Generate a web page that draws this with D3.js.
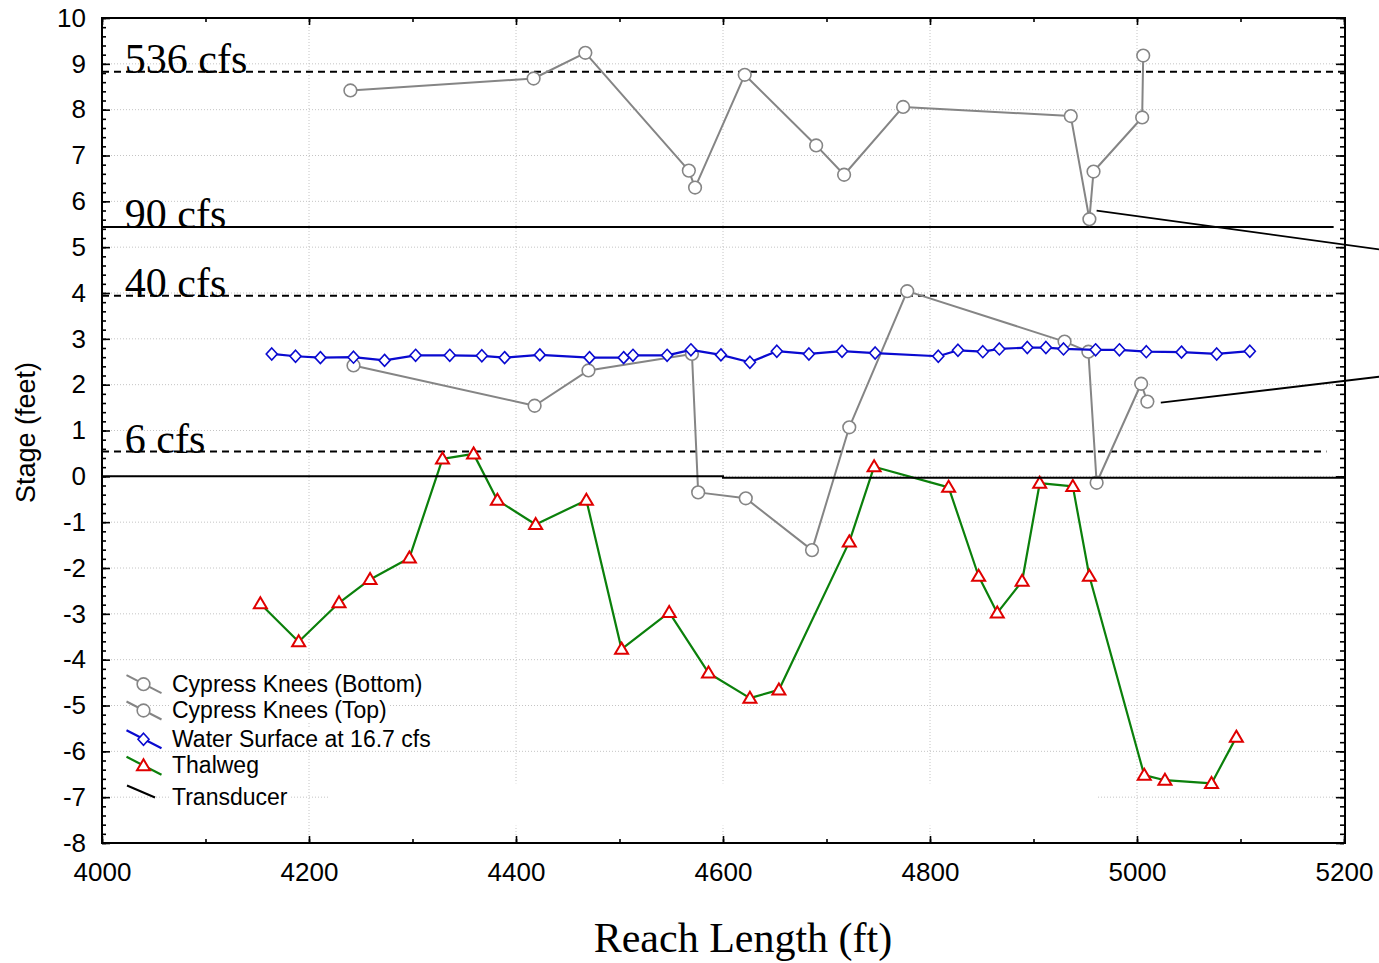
<!DOCTYPE html>
<html>
<head>
<meta charset="utf-8">
<script src="https://cdn.jsdelivr.net/npm/d3@7/dist/d3.min.js"></script>
<style>
  html, body { margin: 0; padding: 0; background: #fff; }
  svg { display: block; }
</style>
</head>
<body>
<svg id="chart" width="1379" height="963"></svg>
<script>
// ---------------- DATA ----------------
const xTicks = [4000, 4200, 4400, 4600, 4800, 5000, 5200];
const yTicks = [-8, -7, -6, -5, -4, -3, -2, -1, 0, 1, 2, 3, 4, 5, 6, 7, 8, 9, 10];

const cypressBottomX = [4243, 4418, 4470, 4570, 4576, 4622, 4686, 4722, 4778, 4930, 4953, 4961, 5004, 5010];
const cypressBottomY = [2.42, 1.54, 2.31, 2.67, -0.35, -0.48, -1.61, 1.07, 4.04, 2.94, 2.72, -0.14, 2.02, 1.63];

const cypressTopX = [4240, 4417, 4467, 4567, 4573, 4621, 4690, 4717, 4774, 4936, 4954, 4958, 5005, 5006];
const cypressTopY = [8.42, 8.68, 9.24, 6.67, 6.30, 8.76, 7.22, 6.58, 8.06, 7.86, 5.61, 6.65, 7.83, 9.18];

const waterX = [4164, 4187, 4211, 4243, 4273, 4303, 4336, 4367, 4389, 4423, 4471, 4504, 4513, 4546, 4569, 4598, 4626,
                4652, 4683, 4715, 4747, 4808, 4827, 4851, 4867, 4894, 4912, 4929, 4960, 4983, 5009, 5043, 5077, 5109];
const waterY = [2.67, 2.62, 2.59, 2.60, 2.53, 2.64, 2.64, 2.63, 2.59, 2.65, 2.59, 2.59, 2.64, 2.64, 2.76, 2.65, 2.49,
                2.73, 2.67, 2.73, 2.69, 2.62, 2.75, 2.72, 2.78, 2.81, 2.81, 2.78, 2.76, 2.76, 2.72, 2.71, 2.67, 2.73];

const thalwegX = [4153, 4190, 4229, 4259, 4297, 4329, 4359, 4382, 4419, 4468, 4502, 4548, 4586, 4626, 4654, 4722,
                  4746, 4818, 4847, 4865, 4889, 4906, 4938, 4954, 5007, 5027, 5072, 5096];
const thalwegY = [-2.78, -3.61, -2.76, -2.25, -1.78, 0.38, 0.49, -0.52, -1.05, -0.52, -3.77, -2.97, -4.29, -4.84, -4.66, -1.43,
                  0.21, -0.24, -2.18, -2.98, -2.29, -0.15, -0.22, -2.18, -6.52, -6.63, -6.70, -5.69];

const transducerX = [4000, 4600, 4600, 5200];
const transducerY = [0, 0, -0.03, -0.03];

const flowLabels = ["536 cfs", "90 cfs", "40 cfs", "6 cfs"];
const flowStages = [8.83, 5.44, 3.94, 0.54];
const flowDashed = [true, false, true, true];
const flowEndX = [5203, 5190, 5190, 5183];

const seriesNames = ["Cypress Knees (Bottom)", "Cypress Knees (Top)", "Water Surface at 16.7 cfs", "Thalweg", "Transducer"];

// pointer (callout) lines, in data units
const pointerFromX = [4961, 5023];
const pointerFromY = [5.795, 1.606];
const pointerToX = [5234, 5234];
const pointerToY = [4.953, 2.173];

// ---------------- SETUP ----------------
const svg = d3.select("#chart");
const L = 102, R = 1344, T = 18, B = 843;
const x = d3.scaleLinear().domain([4000, 5200]).range([L, R]);
const y = d3.scaleLinear().domain([-8, 10]).range([B, T]);

const sans = "'Liberation Sans', Arial, Helvetica, sans-serif";
const serif = "'Liberation Serif', 'Times New Roman', Times, serif";

const zip = (xs, ys) => xs.map((v, i) => ({ x: v, y: ys[i] }));
const plainFmt = d => String(d);   // ASCII hyphen for negatives

// grid
const grid = svg.append("g").attr("stroke", "#c4c4c4").attr("stroke-width", 1).attr("stroke-dasharray", "1,2");
grid.selectAll("line.h").data(yTicks.filter(v => v > -8 && v < 10)).join("line")
  .attr("x1", L).attr("x2", R).attr("y1", d => y(d)).attr("y2", d => y(d));
grid.selectAll("line.v").data(xTicks.filter(v => v > 4000 && v < 5200)).join("line")
  .attr("x1", d => x(d)).attr("x2", d => x(d)).attr("y1", T).attr("y2", B);

// white caption box covering part of the lower grid
svg.append("rect")
  .attr("x", x(4219)).attr("y", y(-6.7))
  .attr("width", x(4961) - x(4219)).attr("height", y(-7.62) - y(-6.7))
  .attr("fill", "#fff");

// flow reference lines
flowStages.forEach((s, i) => {
  svg.append("line")
    .attr("x1", L).attr("x2", x(flowEndX[i]))
    .attr("y1", y(s)).attr("y2", y(s))
    .attr("stroke", "#000").attr("stroke-width", 2)
    .attr("stroke-dasharray", flowDashed[i] ? "7,5" : null);
  svg.append("text")
    .attr("x", x(4022)).attr("y", y(s) + 1)
    .attr("font-family", serif).attr("font-size", 42)
    .attr("fill", "#000")
    .text(flowLabels[i]);
});

// series
const lineGen = d3.line().x(d => x(d.x)).y(d => y(d.y));

const circlePath = d3.symbol().type(d3.symbolCircle).size(Math.PI * 40)();
const diamondPath = "M0,-6L5.5,0L0,6L-5.5,0Z";
const trianglePath = "M0,-6.5L6.5,4.5L-6.5,4.5Z";

const series = [
  { name: seriesNames[0], data: zip(cypressBottomX, cypressBottomY), color: "#858585", width: 2, marker: circlePath, mStroke: "#858585", mWidth: 1.6 },
  { name: seriesNames[1], data: zip(cypressTopX, cypressTopY), color: "#858585", width: 2, marker: circlePath, mStroke: "#858585", mWidth: 1.6 },
  { name: seriesNames[2], data: zip(waterX, waterY), color: "#0a0ad0", width: 2.2, marker: diamondPath, mStroke: "#0a0ad0", mWidth: 1.6 },
  { name: seriesNames[3], data: zip(thalwegX, thalwegY), color: "#0b800b", width: 2.2, marker: trianglePath, mStroke: "#e00000", mWidth: 2 },
];

series.forEach(s => {
  svg.append("path").datum(s.data)
    .attr("d", lineGen).attr("fill", "none")
    .attr("stroke", s.color).attr("stroke-width", s.width).attr("stroke-linejoin", "round");
  svg.append("g").selectAll("path").data(s.data).join("path")
    .attr("d", s.marker)
    .attr("transform", d => `translate(${x(d.x)},${y(d.y)})`)
    .attr("fill", "#fff").attr("stroke", s.mStroke).attr("stroke-width", s.mWidth);
});

// transducer
svg.append("path").datum(zip(transducerX, transducerY))
  .attr("d", lineGen).attr("fill", "none").attr("stroke", "#000").attr("stroke-width", 2);

// pointer lines
pointerFromX.forEach((v, i) => {
  svg.append("line")
    .attr("x1", x(v)).attr("y1", y(pointerFromY[i]))
    .attr("x2", x(pointerToX[i])).attr("y2", y(pointerToY[i]))
    .attr("stroke", "#000").attr("stroke-width", 1.8);
});

// frame
svg.append("rect").attr("x", L).attr("y", T).attr("width", R - L + 1).attr("height", B - T)
  .attr("fill", "none").attr("stroke", "#000").attr("stroke-width", 2);

// axes
function styleAxis(g) {
  g.select(".domain").remove();
  g.selectAll("line").attr("stroke", "#000").attr("stroke-width", 1.6);
  g.selectAll("text").attr("font-family", sans).attr("font-size", 26).attr("fill", "#000");
}
const yMinor = d3.range(-8, 10.001, 0.2).map(v => +v.toFixed(1));
const xMinor = d3.range(4000, 5201, 100);

svg.append("g").attr("transform", `translate(${L},0)`)
  .call(d3.axisLeft(y).tickValues(yTicks).tickSizeInner(-8).tickSizeOuter(0).tickPadding(16).tickFormat(plainFmt))
  .call(styleAxis);
svg.append("g").attr("transform", `translate(${L},0)`)
  .call(d3.axisLeft(y).tickValues(yMinor).tickSizeInner(-4).tickSizeOuter(0).tickFormat(""))
  .call(styleAxis);
svg.append("g").attr("transform", `translate(${R},0)`)
  .call(d3.axisRight(y).tickValues(yTicks).tickSizeInner(-8).tickSizeOuter(0).tickFormat(""))
  .call(styleAxis);
svg.append("g").attr("transform", `translate(${R},0)`)
  .call(d3.axisRight(y).tickValues(yMinor).tickSizeInner(-4).tickSizeOuter(0).tickFormat(""))
  .call(styleAxis);

svg.append("g").attr("transform", `translate(0,${B})`)
  .call(d3.axisBottom(x).tickValues(xTicks).tickSizeInner(-7).tickSizeOuter(0).tickPadding(20).tickFormat(plainFmt))
  .call(styleAxis);
svg.append("g").attr("transform", `translate(0,${B})`)
  .call(d3.axisBottom(x).tickValues(xMinor).tickSizeInner(-4).tickSizeOuter(0).tickFormat(""))
  .call(styleAxis);
svg.append("g").attr("transform", `translate(0,${T})`)
  .call(d3.axisTop(x).tickValues(xTicks).tickSizeInner(-7).tickSizeOuter(0).tickFormat(""))
  .call(styleAxis);
svg.append("g").attr("transform", `translate(0,${T})`)
  .call(d3.axisTop(x).tickValues(xMinor).tickSizeInner(-4).tickSizeOuter(0).tickFormat(""))
  .call(styleAxis);

// axis titles
svg.append("text")
  .attr("transform", `translate(26,${(T + B) / 2 + 2}) rotate(-90)`)
  .attr("text-anchor", "middle").attr("dominant-baseline", "central")
  .attr("font-family", sans).attr("font-size", 27).attr("fill", "#000")
  .text("Stage (feet)");
svg.append("text")
  .attr("x", 743).attr("y", 952)
  .attr("text-anchor", "middle")
  .attr("font-family", serif).attr("font-size", 42).attr("fill", "#000")
  .text("Reach Length (ft)");

// legend
const legBaselines = [691.7, 718, 746.7, 773.3, 805];
const legend = svg.append("g");
const legItems = [
  { s: series[0] }, { s: series[1] }, { s: series[2] }, { s: series[3] }, { s: null }
];
legItems.forEach((it, i) => {
  const cy = legBaselines[i] - 7.5;
  const txt = legend.append("text")
    .attr("x", 172).attr("y", legBaselines[i])
    .attr("font-family", sans).attr("font-size", 23).attr("fill", "#000")
    .text(seriesNames[i]);
  const bb = txt.node().getBBox();
  legend.insert("rect", "text")
    .attr("x", bb.x - 2).attr("y", bb.y + 2).attr("width", bb.width + 4).attr("height", bb.height - 4)
    .attr("fill", "#fff");
  if (it.s) {
    legend.append("line")
      .attr("x1", 126.5).attr("y1", cy - 9).attr("x2", 161.5).attr("y2", cy + 9)
      .attr("stroke", it.s.color).attr("stroke-width", it.s.width);
    legend.append("path").attr("d", it.s.marker)
      .attr("transform", `translate(143.5,${cy})`)
      .attr("fill", "#fff").attr("stroke", it.s.mStroke).attr("stroke-width", it.s.mWidth);
  } else {
    legend.append("line")
      .attr("x1", 127).attr("y1", cy - 12).attr("x2", 155).attr("y2", cy)
      .attr("stroke", "#000").attr("stroke-width", 2);
  }
});
</script>
</body>
</html>
